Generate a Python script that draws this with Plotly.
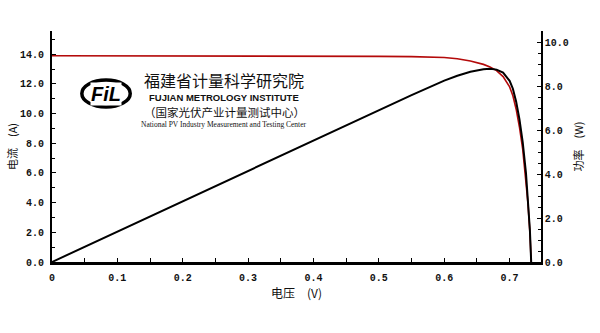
import plotly.graph_objects as go

# Data (I-V and P-V curves of a PV cell)
voltage = [0, 0.05, 0.1, 0.15, 0.2, 0.25, 0.3, 0.35, 0.4, 0.45, 0.5, 0.55, 0.6, 0.62,
           0.64, 0.66, 0.67, 0.68, 0.69, 0.70, 0.705, 0.71, 0.715, 0.72, 0.725, 0.728,
           0.731, 0.733]
current = [13.90, 13.90, 13.90, 13.90, 13.89, 13.89, 13.89, 13.88, 13.88, 13.87, 13.86,
           13.84, 13.78, 13.70, 13.55, 13.32, 13.15, 12.90, 12.50, 11.80, 11.20, 10.30,
           9.10, 7.60, 5.60, 4.00, 2.00, 0.0]
power = [0.0, 0.695, 1.39, 2.085, 2.778, 3.47, 4.167, 4.858, 5.552, 6.24, 6.93, 7.61,
         8.27, 8.49, 8.67, 8.79, 8.81, 8.77, 8.63, 8.26, 7.90, 7.31, 6.51, 5.47, 4.06,
         2.91, 1.46, 0.0]

x_ticks = [0, 0.1, 0.2, 0.3, 0.4, 0.5, 0.6, 0.7]
x_tick_labels = ["0", "0.1", "0.2", "0.3", "0.4", "0.5", "0.6", "0.7"]

CJK = "Noto Sans CJK SC"
TICKFONT = dict(family="Liberation Mono", size=10, color="#111111", weight="bold")
TITLEFONT = dict(family=CJK, size=12, color="#111111")

fig = go.Figure()
fig.add_trace(go.Scatter(x=voltage, y=current, mode="lines",
                         line=dict(color="#b40a0a", width=1.6), yaxis="y",
                         showlegend=False))
fig.add_trace(go.Scatter(x=voltage, y=power, mode="lines",
                         line=dict(color="#000000", width=2), yaxis="y2",
                         showlegend=False))

fig.update_layout(
    width=600, height=333,
    margin=dict(l=52, r=59, t=31, b=71),
    paper_bgcolor="white", plot_bgcolor="white",
    xaxis=dict(
        range=[0, 0.748], tickvals=x_ticks, ticktext=x_tick_labels,
        ticks="inside", ticklen=4, tickwidth=1, tickcolor="black",
        minor=dict(dtick=0.05, ticks="inside", ticklen=4, tickcolor="black"),
        showline=True, linecolor="black", linewidth=2.5, automargin=False,
        showgrid=False, zeroline=False, tickfont=TICKFONT, ticklabelstandoff=4,
        title=dict(text="电压\u3000(V)", font=TITLEFONT, standoff=6),
    ),
    yaxis=dict(
        range=[0, 15.57], dtick=2, tick0=0, tickformat=".1f",
        ticks="inside", ticklen=4, tickcolor="black",
        minor=dict(dtick=1, ticks="inside", ticklen=3, tickcolor="black"),
        showline=True, linecolor="black", linewidth=2, automargin=False,
        showgrid=False, zeroline=False, tickfont=TICKFONT, ticklabelstandoff=4,
        title=dict(text="电流\u3000(A)", font=dict(family=CJK, size=11, color="#111"),
                   standoff=0),
    ),
    yaxis2=dict(
        range=[0, 10.53], dtick=2, tick0=0, tickformat=".1f",
        overlaying="y", side="right",
        ticks="inside", ticklen=4, tickcolor="black",
        minor=dict(dtick=0.5, ticks="inside", ticklen=3, tickcolor="black"),
        showline=True, linecolor="black", linewidth=1.5, automargin=False,
        showgrid=False, zeroline=False, tickfont=TICKFONT, ticklabelstandoff=0,
        title=dict(text="功率\u3000(W)", font=dict(family=CJK, size=11, color="#111"),
                   standoff=8),
    ),
)

# Logo / watermark
fig.add_shape(type="circle", xref="paper", yref="paper",
              x0=0.061, x1=0.160, y0=0.671, y1=0.788,
              line=dict(color="black", width=3.5))
fig.add_annotation(xref="paper", yref="paper", x=0.110, y=0.728, text="<b><i>FiL</i></b>",
                   xanchor="center", yanchor="middle", showarrow=False, bgcolor="white",
                   borderpad=0,
                   font=dict(family="Liberation Sans", size=20, color="black"))
texts = [
    ("福建省计量科学研究院", 0.788, CJK, 16, "normal"),
    ("FUJIAN METROLOGY INSTITUTE", 0.712, "Liberation Sans", 9.5, "bold"),
    ("（国家光伏产业计量测试中心）", 0.648, CJK, 11.5, "normal"),
    ("National PV Industry Measurement and Testing Center", 0.594, "Liberation Serif", 7.5, "normal"),
]
for t, y, fam, sz, wt in texts:
    fig.add_annotation(xref="paper", yref="paper", x=0.352, y=y, text=t, showarrow=False,
                       xanchor="center", yanchor="middle",
                       font=dict(family=fam, size=sz, color="#111", weight=wt))

fig.write_html("out.html")
